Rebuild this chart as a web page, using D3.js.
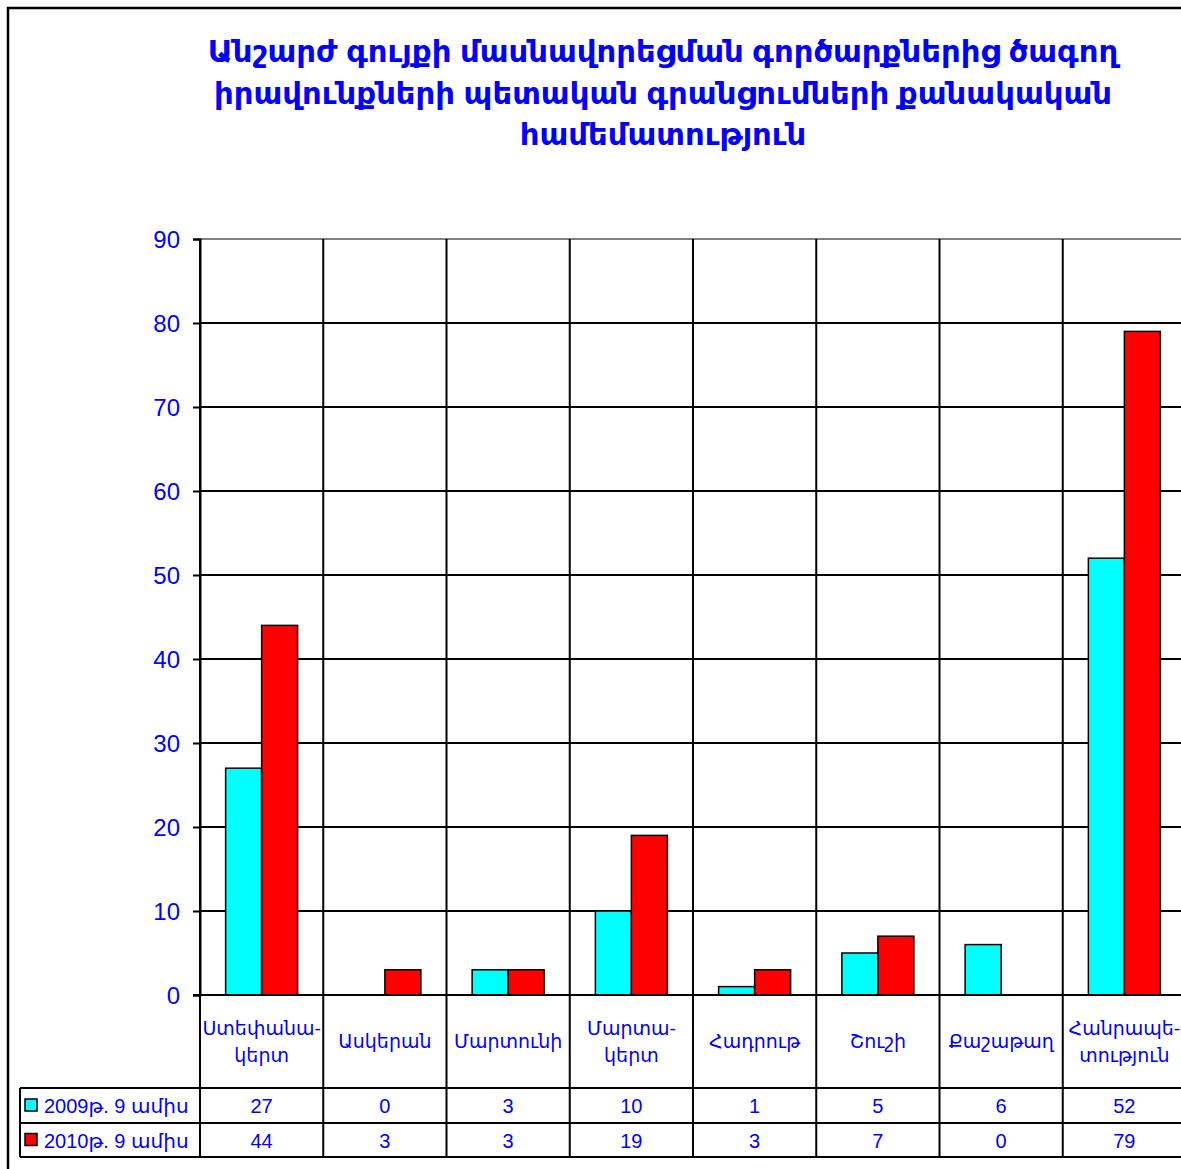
<!DOCTYPE html>
<html>
<head>
<meta charset="utf-8">
<script src="https://cdn.jsdelivr.net/npm/d3@7"></script>
<style>
  html, body { margin: 0; padding: 0; background: #fff; overflow: hidden; }
  svg { display: block; }
  text { font-family: "Liberation Sans", "DejaVu Sans", sans-serif; fill: #0000ff; }
</style>
</head>
<body>
<svg id="chart" width="1181" height="1169"></svg>
<script>
// Chart data
const titleLines = [
  "Անշարժ գույքի մասնավորեցման գործարքներից ծագող",
  "իրավունքների պետական գրանցումների քանակական",
  "համեմատություն"
];
const categories = ["Ստեփանակերտ", "Ասկերան", "Մարտունի", "Մարտակերտ", "Հադրութ", "Շուշի", "Քաշաթաղ", "Հանրապետություն"];
const categoryLabels = [["Ստեփանա-", "կերտ"], ["Ասկերան"], ["Մարտունի"], ["Մարտա-", "կերտ"], ["Հադրութ"], ["Շուշի"], ["Քաշաթաղ"], ["Հանրապե-", "տություն"]];
const seriesNames = ["2009թ. 9 ամիս", "2010թ. 9 ամիս"];
const seriesColors = ["#00ffff", "#ff0000"];
const values2009 = [27, 0, 3, 10, 1, 5, 6, 52];
const values2010 = [44, 3, 3, 19, 3, 7, 0, 79];
const yTicks = [0, 10, 20, 30, 40, 50, 60, 70, 80, 90];

const seriesValues = [values2009, values2010];

const svg = d3.select("#chart");

// Layout
const plotLeft = 200, bandW = 123.25;
const plotTop = 239, plotBottom = 995;
const labelRowBottom = 1088, row1Bottom = 1123, row2Bottom = 1157;
const legendLeft = 20;
const plotRight = plotLeft + bandW * categories.length;

const x = d3.scaleBand().domain(categories).range([plotLeft, plotRight]).padding(0);
const xs = d3.scaleBand().domain(d3.range(seriesNames.length)).range([0, x.bandwidth()]).paddingInner(0).paddingOuter(0.712);
const y = d3.scaleLinear().domain([0, 90]).range([plotBottom, plotTop]);

// Outer chart frame (runs past the right and bottom edges)
svg.append("rect")
  .attr("x", 8).attr("y", 8).attr("width", 1400).attr("height", 1400)
  .attr("fill", "none").attr("stroke", "#000").attr("stroke-width", 2.5);

// Title
const title = svg.append("text")
  .attr("text-anchor", "middle")
  .attr("font-weight", "bold")
  .attr("font-family", "DejaVu Sans, sans-serif")
  .attr("font-size", 28);
title.selectAll("tspan").data(titleLines).join("tspan")
  .attr("x", 663)
  .attr("y", (d, i) => 62 + i * 41.5)
  .text(d => d);
// fit first line to its printed width
const firstLen = title.select("tspan").node().getComputedTextLength();
title.attr("font-size", 28 * 911 / firstLen);

// Horizontal gridlines
svg.append("g").selectAll("line").data(yTicks.filter(t => t > 0)).join("line")
  .attr("x1", plotLeft).attr("x2", plotRight)
  .attr("y1", d => y(d)).attr("y2", d => y(d))
  .attr("stroke", d => d === 90 ? "#808080" : "#000")
  .attr("stroke-width", 2);

// Y axis
const yAxis = d3.axisLeft(y).tickValues(yTicks).tickSize(7).tickPadding(13).tickFormat(d3.format("d"));
const yg = svg.append("g").attr("transform", `translate(${plotLeft},0)`).call(yAxis);
yg.select(".domain").attr("stroke", "#000").attr("stroke-width", 2);
yg.selectAll(".tick line").attr("stroke", "#000").attr("stroke-width", 2);
yg.selectAll(".tick text").attr("font-size", 24).attr("fill", "#0000ff")
  .attr("font-family", "Liberation Sans, sans-serif").attr("dy", "0.35em");

// Bars
const barG = svg.append("g");
categories.forEach((c, ci) => {
  seriesValues.forEach((vals, si) => {
    const v = vals[ci];
    if (v <= 0) return;
    barG.append("rect")
      .attr("x", x(c) + xs(si))
      .attr("y", y(v))
      .attr("width", xs.bandwidth())
      .attr("height", y(0) - y(v))
      .attr("fill", seriesColors[si])
      .attr("stroke", "#000")
      .attr("stroke-width", 1.5);
  });
});

// Vertical category separators through plot and data table
const sepX = categories.map(c => x(c)).concat([plotRight]);
svg.append("g").selectAll("line").data(sepX).join("line")
  .attr("x1", d => d).attr("x2", d => d)
  .attr("y1", plotTop).attr("y2", row2Bottom)
  .attr("stroke", "#000").attr("stroke-width", 2);

// X axis line at zero
svg.append("line")
  .attr("x1", plotLeft - 7).attr("x2", plotRight)
  .attr("y1", plotBottom).attr("y2", plotBottom)
  .attr("stroke", "#000").attr("stroke-width", 2);

// Data table rows
[labelRowBottom, row1Bottom, row2Bottom].forEach(yy => {
  svg.append("line")
    .attr("x1", legendLeft).attr("x2", plotRight)
    .attr("y1", yy).attr("y2", yy)
    .attr("stroke", "#000").attr("stroke-width", 2);
});
svg.append("line")
  .attr("x1", legendLeft).attr("x2", legendLeft)
  .attr("y1", labelRowBottom).attr("y2", row2Bottom)
  .attr("stroke", "#000").attr("stroke-width", 2);

// Category labels
const labG = svg.append("g");
categories.forEach((c, ci) => {
  const lines = categoryLabels[ci];
  const cx = x(c) + x.bandwidth() / 2;
  const midY = (plotBottom + labelRowBottom) / 2;
  const t = labG.append("text").attr("text-anchor", "middle").attr("font-size", 19);
  lines.forEach((ln, li) => {
    t.append("tspan").attr("x", cx)
      .attr("y", midY + (li - (lines.length - 1) / 2) * 27)
      .attr("dy", "0.35em").text(ln);
  });
});

// Legend keys and names, values
const rowMids = [(labelRowBottom + row1Bottom) / 2, (row1Bottom + row2Bottom) / 2];
seriesNames.forEach((name, si) => {
  const ym = rowMids[si];
  svg.append("rect")
    .attr("x", 25).attr("y", ym - 6.5).attr("width", 12).attr("height", 12)
    .attr("fill", seriesColors[si]).attr("stroke", "#000").attr("stroke-width", 1.5);
  svg.append("text").attr("x", 44).attr("y", ym).attr("dy", "0.38em")
    .attr("font-size", 20).text(name);
  svg.append("g").selectAll("text").data(seriesValues[si]).join("text")
    .attr("x", (d, i) => x(categories[i]) + x.bandwidth() / 2)
    .attr("y", ym).attr("dy", "0.38em")
    .attr("text-anchor", "middle").attr("font-size", 20)
    .text(d => d);
});
</script>
</body>
</html>
